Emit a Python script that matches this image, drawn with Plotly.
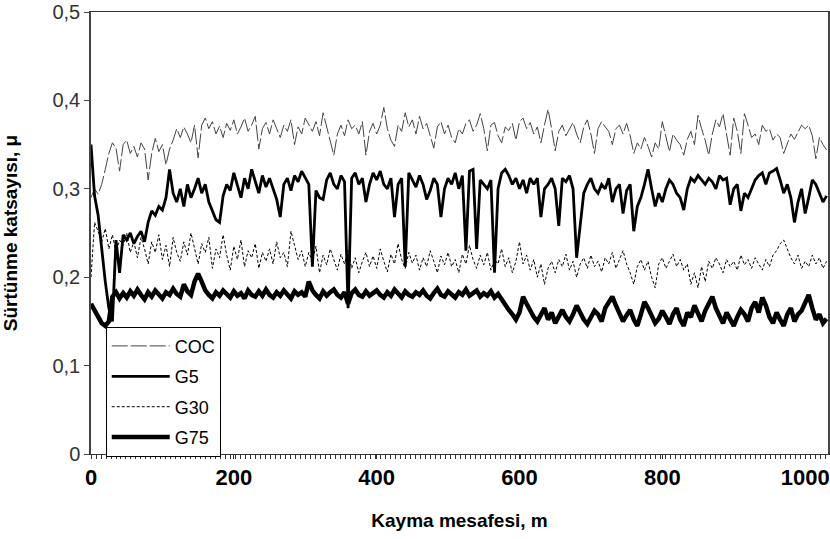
import plotly.graph_objects as go

distance = list(range(0, 1031, 5))

coc = [
    .290, .300, .294, .305, .322, .340, .352, .346, .320, .350,
    .355, .340, .348, .336, .352, .345, .310, .340, .357, .342,
    .350, .327, .345, .355, .368, .358, .370, .362, .352, .372,
    .335, .372, .380, .368, .376, .362, .371, .358, .374, .366,
    .378, .362, .370, .380, .365, .372, .382, .345, .368, .375,
    .362, .378, .368, .358, .372, .365, .378, .350, .370, .362,
    .380, .372, .365, .376, .360, .386, .370, .355, .338, .362,
    .372, .360, .378, .368, .372, .362, .376, .338, .365, .374,
    .362, .372, .392, .368, .355, .348, .372, .365, .386, .370,
    .378, .362, .382, .368, .374, .360, .346, .370, .376, .362,
    .372, .358, .352, .368, .362, .374, .378, .365, .372, .385,
    .368, .343, .372, .375, .360, .352, .370, .366, .374, .355,
    .376, .380, .368, .375, .362, .370, .352, .372, .390, .368,
    .343, .365, .372, .360, .368, .375, .362, .352, .370, .378,
    .362, .340, .368, .376, .370, .365, .350, .368, .372, .362,
    .374, .360, .340, .352, .345, .358, .348, .336, .352, .345,
    .376, .358, .342, .362, .355, .350, .338, .356, .365, .350,
    .383, .368, .355, .338, .362, .378, .370, .385, .362, .338,
    .380, .365, .340, .385, .372, .358, .362, .350, .372, .365,
    .368, .355, .362, .358, .340, .352, .362, .356, .365, .372,
    .368, .372, .360, .334, .358, .350, .344,
]

g5 = [
    .350, .292, .270, .230, .195, .165, .150, .242, .205, .248,
    .242, .250, .238, .246, .252, .240, .262, .275, .270, .280,
    .276, .290, .322, .295, .285, .300, .280, .305, .290, .300,
    .312, .295, .305, .285, .275, .265, .262, .292, .305, .298,
    .318, .305, .290, .312, .300, .322, .308, .295, .315, .302,
    .312, .300, .288, .268, .305, .312, .298, .315, .308, .320,
    .312, .305, .212, .298, .290, .288, .310, .318, .305, .300,
    .315, .308, .165, .312, .318, .305, .312, .285, .305, .318,
    .310, .320, .305, .300, .312, .268, .305, .312, .212, .318,
    .310, .302, .315, .305, .288, .298, .312, .305, .268, .300,
    .312, .305, .318, .300, .315, .230, .320, .322, .232, .310,
    .305, .300, .310, .205, .300, .318, .322, .315, .305, .312,
    .300, .310, .295, .312, .305, .312, .268, .300, .305, .312,
    .300, .258, .312, .308, .315, .300, .222, .262, .295, .305,
    .312, .300, .295, .305, .300, .312, .285, .300, .305, .272,
    .298, .305, .252, .280, .290, .305, .322, .300, .280, .295,
    .285, .300, .310, .305, .295, .290, .276, .300, .312, .308,
    .315, .310, .305, .312, .308, .300, .315, .310, .312, .282,
    .300, .305, .275, .295, .290, .300, .310, .315, .318, .305,
    .318, .320, .323, .310, .295, .305, .290, .262, .285, .300,
    .272, .290, .310, .305, .295, .285, .292,
]

g30 = [
    .200, .262, .252, .240, .255, .232, .248, .228, .242, .236,
    .250, .228, .240, .222, .245, .232, .215, .240, .228, .248,
    .220, .236, .212, .245, .228, .218, .240, .225, .250, .232,
    .215, .238, .228, .245, .210, .232, .222, .248, .225, .208,
    .235, .220, .242, .212, .230, .222, .238, .210, .228, .218,
    .232, .215, .240, .222, .228, .212, .252, .236, .220, .230,
    .212, .228, .218, .235, .205, .225, .214, .232, .220, .208,
    .226, .215, .230, .210, .222, .205, .218, .228, .212, .224,
    .210, .232, .218, .206, .226, .215, .238, .220, .210, .228,
    .216, .225, .208, .222, .212, .230, .218, .205, .224, .214,
    .228, .212, .220, .205, .226, .215, .236, .220, .210, .225,
    .214, .228, .208, .220, .215, .232, .212, .222, .205, .218,
    .240, .215, .225, .208, .220, .200, .215, .192, .210, .218,
    .205, .220, .212, .226, .208, .218, .200, .215, .222, .210,
    .225, .212, .218, .206, .222, .215, .228, .210, .220, .230,
    .215, .205, .192, .212, .220, .208, .218, .200, .188, .215,
    .222, .210, .218, .226, .212, .220, .208, .215, .192, .205,
    .188, .212, .195, .218, .210, .222, .215, .205, .220, .212,
    .218, .208, .225, .214, .220, .210, .222, .215, .208, .220,
    .212, .225, .230, .238, .242, .232, .222, .215, .225, .210,
    .218, .212, .225, .215, .222, .210, .218,
]

g75 = [
    .170, .162, .155, .148, .145, .150, .178, .183, .176, .182,
    .177, .184, .179, .186, .180, .175, .183, .178, .185, .180,
    .176, .183, .180, .187, .181, .178, .192, .184, .180, .195,
    .204, .195, .185, .180, .176, .183, .179, .185, .180, .177,
    .184, .179, .182, .176, .185, .180, .178, .184, .179, .186,
    .180, .177, .183, .179, .185, .181, .176, .184, .180, .183,
    .178, .195, .185, .180, .176, .184, .179, .183, .186, .180,
    .177, .183, .170, .182, .186, .180, .178, .184, .179, .182,
    .185, .180, .177, .183, .179, .186, .181, .177, .184, .180,
    .178, .183, .180, .185, .179, .176, .182, .187, .180, .178,
    .184, .181, .177, .183, .180, .186, .179, .182, .185, .178,
    .182, .179, .184, .177, .181, .175, .170, .163, .158, .152,
    .160, .178, .170, .162, .155, .150, .158, .165, .152, .160,
    .148, .156, .163, .155, .150, .158, .168, .160, .152, .147,
    .155, .162, .158, .150, .165, .172, .178, .168, .158, .150,
    .157, .163, .152, .145, .158, .172, .165, .155, .148, .153,
    .162, .155, .147, .158, .165, .152, .145, .160, .155, .168,
    .158, .150, .162, .170, .178, .165, .155, .148, .160, .152,
    .145, .155, .163, .158, .150, .165, .172, .160, .177, .168,
    .155, .148, .160, .152, .145, .158, .165, .150, .158, .162,
    .170, .180, .165, .152, .158, .148, .153,
]

x_ticks = [0, 200, 400, 600, 800, 1000]
x_ticktext = ["0", "200", "400", "600", "800", "1000"]
y_ticks = [0, 0.1, 0.2, 0.3, 0.4, 0.5]
y_ticktext = ["0", "0,1", "0,2", "0,3", "0,4", "0,5"]

series = [
    ("COC", coc, dict(color="#444444", width=1, dash="16px,3px")),
    ("G5", g5, dict(color="black", width=2.8)),
    ("G30", g30, dict(color="black", width=1, dash="3px,2px")),
    ("G75", g75, dict(color="black", width=4.5)),
]

fig = go.Figure()
for name, vals, line in series:
    n = min(len(vals), len(distance))
    fig.add_trace(go.Scatter(
        x=distance[:n], y=vals[:n], mode="lines", name=name,
        line=line, legendgroup=name,
    ))

narrow = "Liberation Sans Narrow, Arial Narrow, Liberation Sans, Arial, sans-serif"
sans = "Liberation Sans, Arial, sans-serif"

fig.update_layout(
    width=830, height=539,
    margin=dict(l=91, r=2, t=12, b=85, autoexpand=False),
    plot_bgcolor="white", paper_bgcolor="white",
    showlegend=True,
    legend=dict(
        x=0.02, y=0.288, xanchor="left", yanchor="top",
        bgcolor="white", bordercolor="black", borderwidth=1,
        font=dict(family=sans, size=18, color="black"),
        tracegroupgap=4, itemwidth=58,
    ),
    xaxis=dict(
        range=[0, 1032], tickvals=x_ticks, ticktext=x_ticktext,
        showgrid=False, zeroline=False, automargin=False,
        ticklabeloverflow="allow",
        showline=True, linecolor="#333333", linewidth=1, mirror=True,
        ticks="outside", ticklen=4, tickcolor="#333333",
        minor=dict(ticks="outside", ticklen=4, dtick=7, tickcolor="#333333"),
        tickfont=dict(family=narrow, size=22, color="black", weight="bold"),
        title=dict(text="Kayma mesafesi, m", standoff=24,
                   font=dict(family=narrow, size=19, color="black", weight="bold")),
    ),
    yaxis=dict(
        range=[0, 0.5], tickvals=y_ticks, ticktext=y_ticktext,
        showgrid=False, zeroline=False, automargin=False,
        ticklabeloverflow="allow",
        showline=True, linecolor="#444444", linewidth=1.5, mirror=True,
        ticks="outside", ticklen=5, tickcolor="#444444",
        tickfont=dict(family=sans, size=20, color="#333333"),
        title=dict(text="Sürtünme katsayısı, μ", standoff=31,
                   font=dict(family=sans, size=19, color="black", weight="bold")),
    ),
)

fig.write_html(
    "out.html",
    config={"displayModeBar": False},
    post_script="document.body.style.margin='0';document.body.style.overflow='hidden';",
)
